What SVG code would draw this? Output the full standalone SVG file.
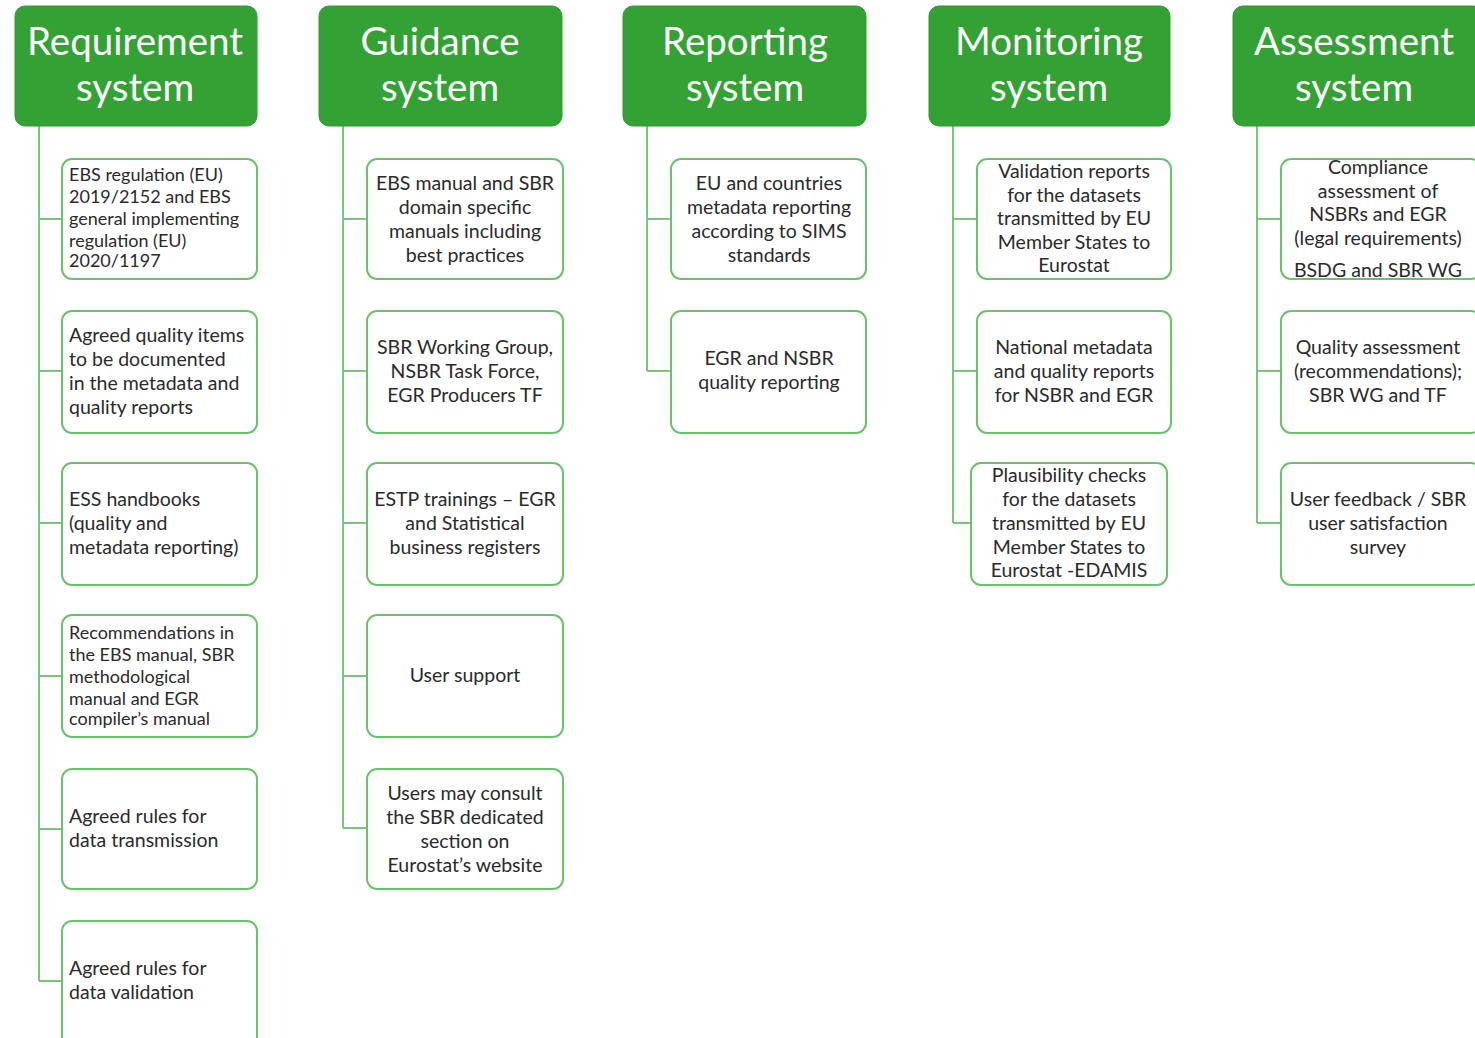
<svg xmlns="http://www.w3.org/2000/svg" width="1475" height="1038" viewBox="0 0 1475 1038">
<style>
.hd{fill:#34a134;stroke:#2e9a2e;stroke-width:1}
.ht{font-family:Lato,"Liberation Sans",sans-serif;font-size:38.5px;fill:#ffffff;text-anchor:middle}
.bx{fill:#ffffff;stroke:#6cc16c;stroke-width:2}
.t{font-family:Lato,"Liberation Sans",sans-serif;font-size:19.5px;fill:#2a2a2a}
.s{font-family:Lato,"Liberation Sans",sans-serif;font-size:18px;fill:#2a2a2a}
.c{text-anchor:middle}
.ln{fill:none;stroke:#7cc47c;stroke-width:2}
</style>
<rect width="1475" height="1038" fill="#ffffff"/>
<g id="connectors">
<path class="ln" d="M39 126V981M39 219H62M39 371H62M39 523H62M39 676H62M39 829H62M39 981H62"/>
<path class="ln" d="M343 126V828M343 219H367M343 371H367M343 523H367M343 676H367M343 828H367"/>
<path class="ln" d="M647 126V371M647 219H671M647 371H671"/>
<path class="ln" d="M953 126V523M953 219H977M953 371H977M953 523H971"/>
<path class="ln" d="M1257 126V523M1257 219H1281M1257 371H1281M1257 523H1281"/>
</g>
<g id="h-req"><rect class="hd" x="15" y="6" width="242" height="120" rx="10"/><text class="ht" x="135" y="55">Requirement</text><text class="ht" x="135" y="101">system</text></g>
<g id="h-gui"><rect class="hd" x="319" y="6" width="243" height="120" rx="10"/><text class="ht" x="440" y="55">Guidance</text><text class="ht" x="440" y="101">system</text></g>
<g id="h-rep"><rect class="hd" x="623" y="6" width="243" height="120" rx="10"/><text class="ht" x="745" y="55">Reporting</text><text class="ht" x="745" y="101">system</text></g>
<g id="h-mon"><rect class="hd" x="929" y="6" width="241" height="120" rx="10"/><text class="ht" x="1049" y="55">Monitoring</text><text class="ht" x="1049" y="101">system</text></g>
<g id="h-ass"><rect class="hd" x="1233" y="6" width="250" height="120" rx="10"/><text class="ht" x="1354" y="55">Assessment</text><text class="ht" x="1354" y="101">system</text></g>

<g id="r1"><rect class="bx" x="62" y="159" width="195" height="120" rx="10"/><text class="s" x="69"><tspan x="69" y="181">EBS regulation (EU)</tspan><tspan x="69" y="203">2019/2152 and EBS</tspan><tspan x="69" y="225">general implementing</tspan><tspan x="69" y="247">regulation (EU)</tspan><tspan x="69" y="267">2020/1197</tspan></text></g>
<g id="r2"><rect class="bx" x="62" y="311" width="195" height="122" rx="10"/><text class="t"><tspan x="69" y="342">Agreed quality items</tspan><tspan x="69" y="366">to be documented</tspan><tspan x="69" y="390">in the metadata and</tspan><tspan x="69" y="414">quality reports</tspan></text></g>
<g id="r3"><rect class="bx" x="62" y="463" width="195" height="122" rx="10"/><text class="t"><tspan x="69" y="506">ESS handbooks</tspan><tspan x="69" y="530">(quality and</tspan><tspan x="69" y="554">metadata reporting)</tspan></text></g>
<g id="r4"><rect class="bx" x="62" y="615" width="195" height="122" rx="10"/><text class="s"><tspan x="69" y="639">Recommendations in</tspan><tspan x="69" y="661">the EBS manual, SBR</tspan><tspan x="69" y="683">methodological</tspan><tspan x="69" y="705">manual and EGR</tspan><tspan x="69" y="725">compiler’s manual</tspan></text></g>
<g id="r5"><rect class="bx" x="62" y="769" width="195" height="120" rx="10"/><text class="t"><tspan x="69" y="823">Agreed rules for</tspan><tspan x="69" y="847">data transmission</tspan></text></g>
<g id="r6"><rect class="bx" x="62" y="921" width="195" height="130" rx="10"/><text class="t"><tspan x="69" y="975">Agreed rules for</tspan><tspan x="69" y="999">data validation</tspan></text></g>

<g id="g1"><rect class="bx" x="367" y="159" width="196" height="120" rx="10"/><text class="t c"><tspan x="465" y="190">EBS manual and SBR</tspan><tspan x="465" y="214">domain specific</tspan><tspan x="465" y="238">manuals including</tspan><tspan x="465" y="262">best practices</tspan></text></g>
<g id="g2"><rect class="bx" x="367" y="311" width="196" height="122" rx="10"/><text class="t c"><tspan x="465" y="354">SBR Working Group,</tspan><tspan x="465" y="378">NSBR Task Force,</tspan><tspan x="465" y="402">EGR Producers TF</tspan></text></g>
<g id="g3"><rect class="bx" x="367" y="463" width="196" height="122" rx="10"/><text class="t c"><tspan x="465" y="506">ESTP trainings – EGR</tspan><tspan x="465" y="530">and Statistical</tspan><tspan x="465" y="554">business registers</tspan></text></g>
<g id="g4"><rect class="bx" x="367" y="615" width="196" height="122" rx="10"/><text class="t c" x="465" y="682">User support</text></g>
<g id="g5"><rect class="bx" x="367" y="769" width="196" height="120" rx="10"/><text class="t c"><tspan x="465" y="800">Users may consult</tspan><tspan x="465" y="824">the SBR dedicated</tspan><tspan x="465" y="848">section on</tspan><tspan x="465" y="872">Eurostat’s website</tspan></text></g>

<g id="p1"><rect class="bx" x="671" y="159" width="195" height="120" rx="10"/><text class="t c"><tspan x="769" y="190">EU and countries</tspan><tspan x="769" y="214">metadata reporting</tspan><tspan x="769" y="238">according to SIMS</tspan><tspan x="769" y="262">standards</tspan></text></g>
<g id="p2"><rect class="bx" x="671" y="311" width="195" height="122" rx="10"/><text class="t c"><tspan x="769" y="365">EGR and NSBR</tspan><tspan x="769" y="389">quality reporting</tspan></text></g>

<g id="m1"><rect class="bx" x="977" y="159" width="194" height="120" rx="10"/><text class="t c"><tspan x="1074" y="178">Validation reports</tspan><tspan x="1074" y="202">for the datasets</tspan><tspan x="1074" y="225">transmitted by EU</tspan><tspan x="1074" y="249">Member States to</tspan><tspan x="1074" y="272">Eurostat</tspan></text></g>
<g id="m2"><rect class="bx" x="977" y="311" width="194" height="122" rx="10"/><text class="t c"><tspan x="1074" y="354">National metadata</tspan><tspan x="1074" y="378">and quality reports</tspan><tspan x="1074" y="402">for NSBR and EGR</tspan></text></g>
<g id="m3"><rect class="bx" x="971" y="463" width="196" height="122" rx="10"/><text class="t c"><tspan x="1069" y="482">Plausibility checks</tspan><tspan x="1069" y="506">for the datasets</tspan><tspan x="1069" y="530">transmitted by EU</tspan><tspan x="1069" y="554">Member States to</tspan><tspan x="1069" y="577">Eurostat -EDAMIS</tspan></text></g>

<g id="a1"><rect class="bx" x="1281" y="159" width="200" height="120" rx="10"/><text class="t c"><tspan x="1378" y="174">Compliance</tspan><tspan x="1378" y="198">assessment of</tspan><tspan x="1378" y="221">NSBRs and EGR</tspan><tspan x="1378" y="245">(legal requirements)</tspan><tspan x="1378" y="277">BSDG and SBR WG</tspan></text></g>
<g id="a2"><rect class="bx" x="1281" y="311" width="200" height="122" rx="10"/><text class="t c"><tspan x="1378" y="354">Quality assessment</tspan><tspan x="1378" y="378">(recommendations);</tspan><tspan x="1378" y="402">SBR WG and TF</tspan></text></g>
<g id="a3"><rect class="bx" x="1281" y="463" width="200" height="122" rx="10"/><text class="t c"><tspan x="1378" y="506">User feedback / SBR</tspan><tspan x="1378" y="530">user satisfaction</tspan><tspan x="1378" y="554">survey</tspan></text></g>
</svg>
